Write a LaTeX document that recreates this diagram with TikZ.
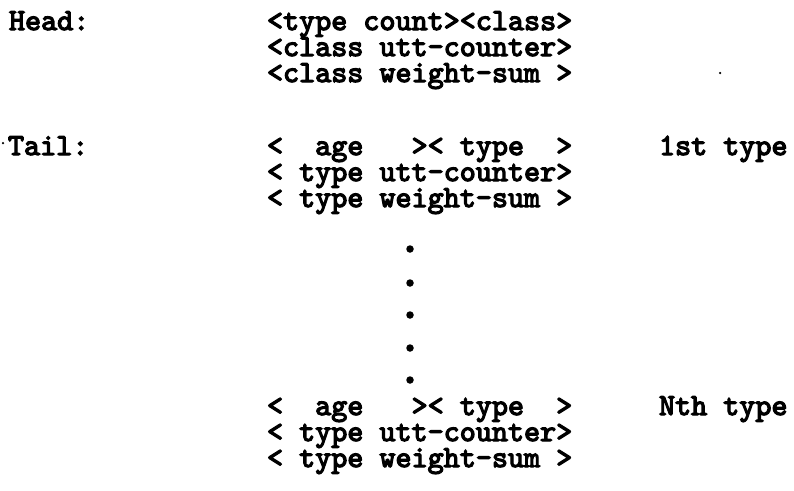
\documentclass[tikz,border=0pt]{standalone}
\usepackage{fontspec}
\newfontfamily\twfont{lmmono10-regular}[Extension=.otf,FakeBold=4]
\begin{document}
\begin{tikzpicture}[x=1pt,y=-1pt,
  txt/.style={anchor=base west,inner sep=0pt,outer sep=0pt,
    font=\twfont\fontsize{30.6}{30.6}\selectfont},
  bigdot/.style={circle,fill=black,inner sep=0pt,minimum size=7.5pt},
  speck/.style={circle,fill=black,inner sep=0pt,minimum size=2.5pt}]
\useasboundingbox (0,0) rectangle (794,490);
\fill[white] (0,0) rectangle (794,490);
% labels
\node[txt] (head) at (9,30) {Head:};
\node[txt] (tail) at (8,155) {Tail:};
\node[speck] (s1) at (3,143) {};
\node[speck] (s2) at (720,73) {};
% head block
\node[txt] (h1) at (267,30) {<type count><class>};
\node[txt] (h2) at (267,56) {<class utt-counter>};
\node[txt] (h3) at (267,82) {<class weight-sum~>};
% first type
\node[txt] (a1) at (267,155) {<~~age~~~><~type~~>};
\node[txt] (a2) at (267,181) {<~type utt-counter>};
\node[txt] (a3) at (267,207) {<~type weight-sum~>};
\node[txt] (l1) at (659,155) {1st type};
% dots
\node[bigdot] (d1) at (410,249) {};
\node[bigdot] (d2) at (410,283) {};
\node[bigdot] (d3) at (410,315) {};
\node[bigdot] (d4) at (410,348) {};
\node[bigdot] (d5) at (410,380) {};
% Nth type
\node[txt] (b1) at (267,415) {<~~age~~~><~type~~>};
\node[txt] (b2) at (267,441) {<~type utt-counter>};
\node[txt] (b3) at (267,467) {<~type weight-sum~>};
\node[txt] (l2) at (659,415) {Nth type};
\end{tikzpicture}
\end{document}
